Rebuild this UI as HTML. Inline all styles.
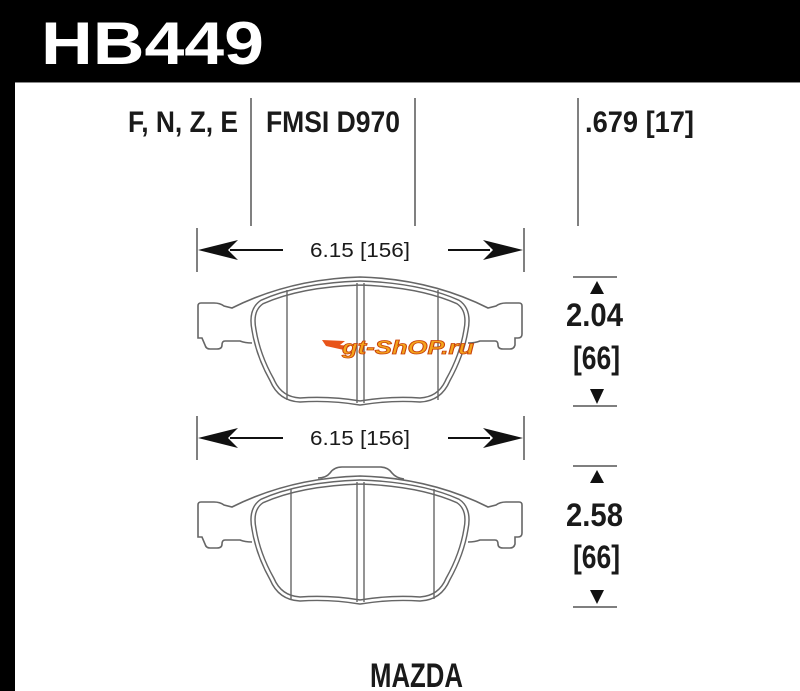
<!DOCTYPE html>
<html><head><meta charset="utf-8"><style>
html,body{margin:0;padding:0;background:#fff}
svg{display:block}
text{font-family:"Liberation Sans",sans-serif;font-weight:bold;fill:#1a1a1a}
</style></head><body>
<svg width="800" height="691" viewBox="0 0 800 691" xmlns="http://www.w3.org/2000/svg">
<rect x="0" y="0" width="800" height="82" fill="#000"/>
<rect x="0" y="0" width="15" height="691" fill="#000"/>
<line x1="15" y1="82.5" x2="800" y2="82.5" stroke="#888" stroke-width="1"/>
<text x="41" y="64" font-size="60" textLength="223" lengthAdjust="spacingAndGlyphs" style="fill:#fff">HB449</text>

<text x="128" y="132" font-size="30" textLength="110" lengthAdjust="spacingAndGlyphs">F, N, Z, E</text>
<text x="266" y="132" font-size="30" textLength="134" lengthAdjust="spacingAndGlyphs">FMSI D970</text>
<text x="585" y="132" font-size="30" textLength="109" lengthAdjust="spacingAndGlyphs">.679 [17]</text>
<g stroke="#555" stroke-width="1.5">
<line x1="251" y1="98" x2="251" y2="226"/>
<line x1="415" y1="98" x2="415" y2="226"/>
<line x1="578" y1="98" x2="578" y2="226"/>
</g>

<!-- horizontal dims -->
<g id="hd">
<g stroke="#555" stroke-width="1.5">
<line x1="197" y1="228" x2="197" y2="272"/>
<line x1="524" y1="228" x2="524" y2="272"/>
</g>
<line x1="230" y1="250" x2="283" y2="250" stroke="#111" stroke-width="2"/>
<line x1="448" y1="250" x2="490" y2="250" stroke="#111" stroke-width="2"/>
<path d="M198 250 L238 240 L228 250 L238 260 Z" fill="#111"/>
<path d="M523 250 L483 240 L493 250 L483 260 Z" fill="#111"/>
<text x="310" y="257" font-size="20" font-weight="normal" textLength="100" lengthAdjust="spacingAndGlyphs" style="font-weight:normal">6.15 [156]</text>
</g>
<use href="#hd" transform="translate(0,188)"/>

<!-- vertical dims -->
<g stroke="#555" stroke-width="1.5">
<line x1="573" y1="277" x2="617" y2="277"/>
<line x1="573" y1="406" x2="617" y2="406"/>
<line x1="573" y1="466" x2="617" y2="466"/>
<line x1="573" y1="607" x2="617" y2="607"/>
</g>
<g fill="#111">
<path d="M597 281 L604 294 L590 294 Z"/>
<path d="M597 404 L604 389 L590 389 Z"/>
<path d="M597 470 L604 483 L590 483 Z"/>
<path d="M597 604 L604 590 L590 590 Z"/>
</g>
<text x="566" y="326" font-size="32" textLength="57" lengthAdjust="spacingAndGlyphs">2.04</text>
<text x="573" y="369" font-size="32" textLength="47" lengthAdjust="spacingAndGlyphs">[66]</text>
<text x="566" y="526" font-size="32" textLength="57" lengthAdjust="spacingAndGlyphs">2.58</text>
<text x="573" y="568" font-size="32" textLength="47" lengthAdjust="spacingAndGlyphs">[66]</text>

<!-- pad -->
<defs>
<g id="pad" fill="none">
<path d="M252 343 Q245 343 240 341 L225 341 Q222 341 222 345 Q222 349 217 349 L210 349 Q206 349 205 345 L202 338 L198 338 Q198 338 198 334 L198 306 Q198 303 201 303 L214 303 Q220 303 224 306 L232 308 Q290 279 360 277 Q430 279 488 308 L496 306 Q500 303 506 303 L519 303 Q522 303 522 306 L522 334 Q522 338 518 338 L515 338 L515 345 Q514 349 510 349 L503 349 Q498 349 498 345 Q498 341 495 341 L480 341 Q475 343 468 343" stroke="#666" stroke-width="1.6"/>
<path d="M262 302 Q300 285 360 283 Q420 285 458 302 Q470 310 466 330 Q462 355 448 380 Q440 399 420 400 Q390 398 360 403 Q330 398 300 400 Q280 399 272 380 Q258 355 254 330 Q250 310 262 302 Z" stroke="#666" stroke-width="5.5"/>
<path d="M262 302 Q300 285 360 283 Q420 285 458 302 Q470 310 466 330 Q462 355 448 380 Q440 399 420 400 Q390 398 360 403 Q330 398 300 400 Q280 399 272 380 Q258 355 254 330 Q250 310 262 302 Z" stroke="#fff" stroke-width="2.6"/>
<g stroke="#666" stroke-width="1.4">
<line x1="357" y1="283" x2="357" y2="403"/>
<line x1="364" y1="283" x2="364" y2="403"/>
</g>
</g>
</defs>
<use href="#pad"/>
<g stroke="#666" stroke-width="1.4">
<line x1="287" y1="290" x2="287" y2="400"/>
<line x1="438" y1="290" x2="438" y2="400"/>
</g>
<g transform="translate(0,199)">
<path d="M318 279 Q326 279 330 274 Q334 268 342 268 L380 268 Q388 268 392 274 Q396 279 404 280" fill="#fff" stroke="#666" stroke-width="1.6"/>
<use href="#pad"/>
<g stroke="#666" stroke-width="1.4">
<line x1="291" y1="290" x2="291" y2="400"/>
<line x1="434" y1="290" x2="434" y2="400"/>
</g>
</g>

<!-- watermark logo -->
<path d="M322 340 L345 341 L340 345 L350 346 L344 350 L326 346 Z" fill="#e8541a"/>
<text x="342" y="354" font-size="19" font-style="italic" textLength="132" lengthAdjust="spacingAndGlyphs" style="fill:#f4a51c;stroke:#c8400a;stroke-width:0.8">gt-ShOP.ru</text>

<text x="370" y="687" font-size="34" textLength="93" lengthAdjust="spacingAndGlyphs">MAZDA</text>
</svg>
</body></html>
